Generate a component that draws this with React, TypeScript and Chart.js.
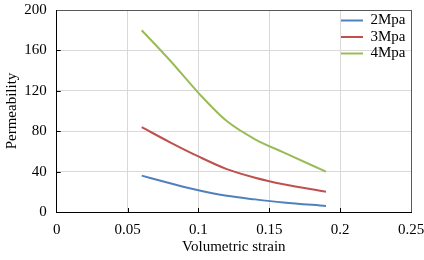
import React, { useEffect, useRef } from "react";
import { Chart, registerables } from "chart.js";

Chart.register(...registerables);

const strain = [0.06, 0.08, 0.1, 0.12, 0.14, 0.16, 0.19];
const perm2 = [36, 28.5, 21.5, 16, 12.5, 9.5, 6];
const perm3 = [84, 69, 55, 42.5, 34, 27.5, 20];
const perm4 = [180, 150, 118, 90, 72, 59, 40];
const seriesLabels = ["2Mpa", "3Mpa", "4Mpa"];
const seriesColors = ["#4F81BD", "#C0504D", "#9BBB59"];
const xTickLabels = ["0", "0.05", "0.1", "0.15", "0.2", "0.25"];
const yTickLabels = ["0", "40", "80", "120", "160", "200"];
const xTitle = "Volumetric strain";
const yTitle = "Permeability";

const FONT = '"Liberation Serif", "Times New Roman", serif';
const FS = 15;

const legendInPlot = {
  id: "legendInPlot",
  afterLayout(chart: any) {
    const lg = chart.legend;
    const ca = chart.chartArea;
    if (!lg || !ca) return;
    const w = lg.width;
    lg.left = ca.right - 71.5;
    lg.right = lg.left + w;
    lg.top = ca.top + 1.5;
    lg.bottom = ca.bottom;
  },
};

// short inward tick marks along both axes, placed with the scales
const inwardTicks = {
  id: "inwardTicks",
  afterDatasetsDraw(chart: any) {
    const { ctx, chartArea: ca, scales } = chart;
    const len = 4;
    ctx.save();
    ctx.strokeStyle = "#000";
    ctx.lineWidth = 1;
    ctx.beginPath();
    scales.x.ticks.forEach((t: any, i: number) => {
      if (i === 0 || i === scales.x.ticks.length - 1) return;
      const px = Math.round(scales.x.getPixelForValue(t.value)) + 0.5;
      ctx.moveTo(px, ca.bottom);
      ctx.lineTo(px, ca.bottom - len);
    });
    scales.y.ticks.forEach((t: any, i: number) => {
      if (i === 0 || i === scales.y.ticks.length - 1) return;
      const py = Math.round(scales.y.getPixelForValue(t.value)) + 0.5;
      ctx.moveTo(ca.left, py);
      ctx.lineTo(ca.left + len, py);
    });
    ctx.stroke();
    ctx.restore();
  },
};

export default function App() {
  const ref = useRef<HTMLCanvasElement | null>(null);

  useEffect(() => {
    if (!ref.current) return;
    const series = [perm2, perm3, perm4];
    const chart = new Chart(ref.current, {
      type: "line",
      data: {
        datasets: series.map((vals, i) => ({
          label: seriesLabels[i],
          data: strain.map((x, j) => ({ x, y: vals[j] })),
          borderColor: seriesColors[i],
          backgroundColor: seriesColors[i],
          borderWidth: 2,
          pointRadius: 0,
          pointStyle: "line",
          cubicInterpolationMode: "monotone",
          fill: false,
        })),
      },
      options: {
        responsive: false,
        animation: false,
        devicePixelRatio: 1,
        layout: { padding: { left: 3, right: 13, top: 10, bottom: 4 } },
        plugins: {
          tooltip: { enabled: false },
          legend: {
            position: "chartArea",
            align: "start",
            labels: {
              font: { family: FONT, size: FS },
              color: "#000",
              usePointStyle: true,
              pointStyle: "line",
              pointStyleWidth: 22,
              padding: 1.5,
            },
          },
        },
        scales: {
          x: {
            type: "linear",
            min: 0,
            max: 0.25,
            ticks: {
              stepSize: 0.05,
              autoSkip: false,
              maxRotation: 0,
              padding: 9,
              color: "#000",
              font: { family: FONT, size: FS },
              callback: (_v: any, i: number) => xTickLabels[i],
            },
            grid: {
              color: (ctx: any) =>
                ctx.index === 0 ? "rgba(0,0,0,0)" : ctx.index === xTickLabels.length - 1 ? "#595959" : "#D9D9D9",
              drawTicks: false,
            },
            border: { color: "#000", width: 1 },
            title: {
              display: true,
              text: xTitle,
              color: "#000",
              font: { family: FONT, size: FS },
              padding: 0,
            },
            afterFit: (s: any) => {
              s.height = 44;
              s.paddingLeft = 0;
              s.paddingRight = 0;
            },
          },
          y: {
            type: "linear",
            min: 0,
            max: 200,
            ticks: {
              stepSize: 40,
              padding: 10,
              color: "#000",
              font: { family: FONT, size: FS },
              callback: (_v: any, i: number) => yTickLabels[i],
            },
            grid: {
              color: (ctx: any) =>
                ctx.index === 0 ? "rgba(0,0,0,0)" : ctx.index === yTickLabels.length - 1 ? "#595959" : "#D9D9D9",
              drawTicks: false,
            },
            border: { color: "#000", width: 1 },
            title: {
              display: true,
              text: yTitle,
              color: "#000",
              font: { family: FONT, size: FS },
              padding: 0,
            },
            afterFit: (s: any) => {
              s.width = 53.7;
              s.paddingTop = 0;
              s.paddingBottom = 0;
            },
          },
        },
      } as any,
      plugins: [legendInPlot, inwardTicks],
    });
    return () => chart.destroy();
  }, []);

  return (
    <div style={{ position: "absolute", left: 0, top: 0, width: 424, height: 260, background: "#fff" }}>
      <canvas ref={ref} width={424} height={260} />
    </div>
  );
}
